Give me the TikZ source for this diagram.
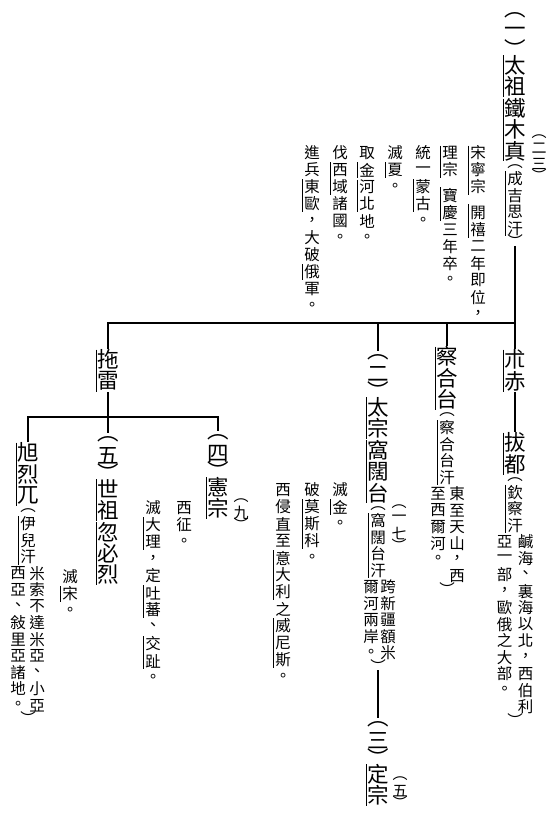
\documentclass[tikz,border=0pt]{standalone}
\usepackage{fontspec}
\newfontfamily\cjkfont{Noto Sans CJK TC}
\newlength\vpitch
\makeatletter
% stack characters top to bottom; | adds half a cell, ︵ and ︶ take a short cell
\newcommand\vtext[1]{\vbox{\offinterlineskip\vt@loop#1\relax}}
\def\vt@loop#1{\ifx\relax#1\else\vt@cell{#1}\expandafter\vt@loop\fi}
\def\vt@cell#1{%
  \ifx|#1\vskip0.5\vpitch\relax
  \else\ifx︵#1\vt@box{0.55\vpitch}{#1}%
  \else\ifx︶#1\vt@box{0.55\vpitch}{#1}%
  \else\vt@box{\vpitch}{#1}%
  \fi\fi\fi}
\def\vt@box#1#2{\vbox to #1{\vss\hbox to 1em{\hss#2\hss}\vss}}
\makeatother
% side line marking a proper name
\newcommand\namemark[3]{\draw[pmark] (#1,#2) -- (#1,#3);}

\tikzset{
  vcol/.style={inner sep=0pt, outer sep=0pt, anchor=north},
  namecol/.style={vcol, font={\cjkfont\fontsize{21.5pt}{21.5pt}\selectfont\setlength\vpitch{21.5pt}}},
  notecol/.style={vcol, font={\cjkfont\fontsize{15.5pt}{15.5pt}\selectfont\setlength\vpitch{16.5pt}}},
  desccol/.style={vcol, font={\cjkfont\fontsize{15.5pt}{15.5pt}\selectfont\setlength\vpitch{17pt}}},
  numcol/.style={vcol, font={\cjkfont\fontsize{15pt}{15pt}\selectfont\setlength\vpitch{15pt}}},
  link/.style={line width=1.1pt},
  pmark/.style={line width=0.8pt},
}

\begin{document}
\begin{tikzpicture}[x=1pt, y=-1pt]
\useasboundingbox (0,0) rectangle (550,831);

% ---- Genghis Khan ----
\node[namecol] (g1) at (515,9) {\vtext{︵一︶太祖鐵木真}};
\node[notecol] (g2) at (g1.south) {\vtext{︵成吉思汗︶}};
\node[numcol] (n23) at (539,133) {\vtext{︵二三︶}};
\namemark{503}{55}{96.5}
\namemark{503}{98.5}{161}
\namemark{505.5}{171}{236}

\node[desccol] (d1) at (478,144.5) {\vtext{宋寧宗|開禧二年即位，}};
\node[desccol] (d2) at (450,144.5) {\vtext{理宗|寶慶三年卒。}};
\node[desccol] (d3) at (423,144.5) {\vtext{統一蒙古。}};
\node[desccol] (d4) at (395,144.5) {\vtext{滅夏。}};
\node[desccol] (d5) at (367,144.5) {\vtext{取金河北地。}};
\node[desccol] (d6) at (340,144.5) {\vtext{伐西域諸國。}};
\node[desccol] (d7) at (312,144.5) {\vtext{進兵東歐，大破俄軍。}};
\namemark{468}{145.5}{195}
\namemark{468}{204}{238}
\namemark{440}{145.5}{178}
\namemark{440}{187}{221}
\namemark{413}{179}{212}
\namemark{385}{162}{178}
\namemark{357}{162}{177.5}
\namemark{357}{179.5}{212}
\namemark{330}{162}{195}
\namemark{302}{179}{212}
\namemark{302}{264}{280}

\coordinate (bar1) at (515,323);

% ---- Jochi, Batu ----
\node[namecol] (jochi) at (515,349) {\vtext{朮赤}};
\node[namecol] (batu) at (515,432) {\vtext{拔都}};
\node[notecol] (batuA) at (batu.south) {\vtext{︵欽察汗}};
\node[notecol, xshift=10.5pt] (batuR) at (batuA.south) {\vtext{鹹海、裏海以北，西伯利}};
\node[notecol, xshift=-10.5pt] (batuL) at (batuA.south) {\vtext{亞一部，歐俄之大部。}};
\node[notecol] (batuC) at (batuA.south |- batuR.south) {\vtext{︶}};
\namemark{503}{349.5}{391.5}
\namemark{503}{432.5}{474.5}
\namemark{505}{484.5}{533}

% ---- Chagatai ----
\node[namecol] (chag) at (447,346) {\vtext{察合台}};
\node[notecol] (chagA) at (chag.south) {\vtext{︵察合台汗}};
\node[notecol, xshift=10pt] (chagR) at (chagA.south) {\vtext{東至天山，西}};
\node[notecol, xshift=-9pt] (chagL) at (chagA.south) {\vtext{至西爾河。}};
\node[notecol] (chagC) at (chagA.south |- chagR.south) {\vtext{︶}};
\namemark{435}{346.5}{410}
\namemark{437}{420}{485}

% ---- Ogedei, Guyuk ----
\node[namecol] (oged) at (378,351) {\vtext{︵二︶太宗窩闊台}};
\node[notecol] (ogedA) at (oged.south) {\vtext{︵窩闊台汗}};
\node[notecol, xshift=10pt] (ogedR) at (ogedA.south) {\vtext{跨新疆額米}};
\node[notecol, xshift=-7pt] (ogedL) at (ogedA.south) {\vtext{爾河兩岸。}};
\node[notecol] (ogedC) at (ogedA.south |- ogedR.south) {\vtext{︶}};
\node[numcol] (n17) at (399,503) {\vtext{︵一七︶}};
\namemark{366}{397}{438.5}
\namemark{366}{440}{503}
\namemark{368}{513}{578}

\node[desccol] (od1) at (340,481.5) {\vtext{滅金。}};
\node[desccol] (od2) at (312,481.5) {\vtext{破莫斯科。}};
\node[desccol] (od3) at (283,481.5) {\vtext{西侵直至意大利之威尼斯。}};
\namemark{330}{499}{515}
\namemark{302}{499}{549}
\namemark{273}{550}{600}
\namemark{273}{618}{668}

\node[namecol] (guyuk) at (378,718) {\vtext{︵三︶定宗}};
\node[numcol] (n5) at (400,775) {\vtext{︵五︶}};
\namemark{366}{764}{806}

% ---- Tolui and sons ----
\node[namecol] (tolui) at (108,349) {\vtext{拖雷}};
\namemark{96}{349.5}{391.5}
\coordinate (bar2) at (108,417);

\node[namecol] (kublai) at (108,433) {\vtext{︵五︶世祖忽必烈}};
\namemark{96}{479}{520.5}
\namemark{96}{522}{585}
\node[desccol] (kd) at (70,568.5) {\vtext{滅宋。}};
\namemark{60}{586}{602}

\node[namecol] (mongke) at (218,431) {\vtext{︵四︶憲宗}};
\node[numcol] (n9) at (241,497) {\vtext{︵九︶}};
\namemark{206}{477}{518.5}
\node[desccol] (md1) at (184,499.5) {\vtext{西征。}};
\node[desccol] (md2) at (153,499.5) {\vtext{滅大理，定吐蕃、交趾。}};
\namemark{143}{517}{550}
\namemark{143}{585}{618}
\namemark{143}{636}{669}

\node[namecol] (hulagu) at (28,442) {\vtext{旭烈兀}};
\node[notecol] (hulA) at (hulagu.south) {\vtext{︵伊兒汗}};
\node[notecol, xshift=9pt] (hulR) at (hulA.south) {\vtext{米索不達米亞、小亞}};
\node[notecol, xshift=-10pt] (hulL) at (hulA.south) {\vtext{西亞、敍里亞諸地。}};
\node[notecol] (hulC) at (hulA.south |- hulR.south) {\vtext{︶}};
\namemark{16}{442.5}{506}
\namemark{18}{516}{565}

% ---- connectors ----
\draw[link] (g2.south) -- (bar1) -| (tolui.north);
\draw[link] (bar1) -- (jochi.north);
\draw[link] (jochi.south) -- (batu.north);
\draw[link] (bar1 -| chag.north) -- (chag.north);
\draw[link] (bar1 -| oged.north) -- (oged.north);
\draw[link] (ogedC.south) -- (guyuk.north);
\draw[link] (tolui.south) -- (kublai.north);
\draw[link] (hulagu.north) -- (hulagu.north |- bar2) -- (mongke.north |- bar2) -- (mongke.north);
\end{tikzpicture}
\end{document}
